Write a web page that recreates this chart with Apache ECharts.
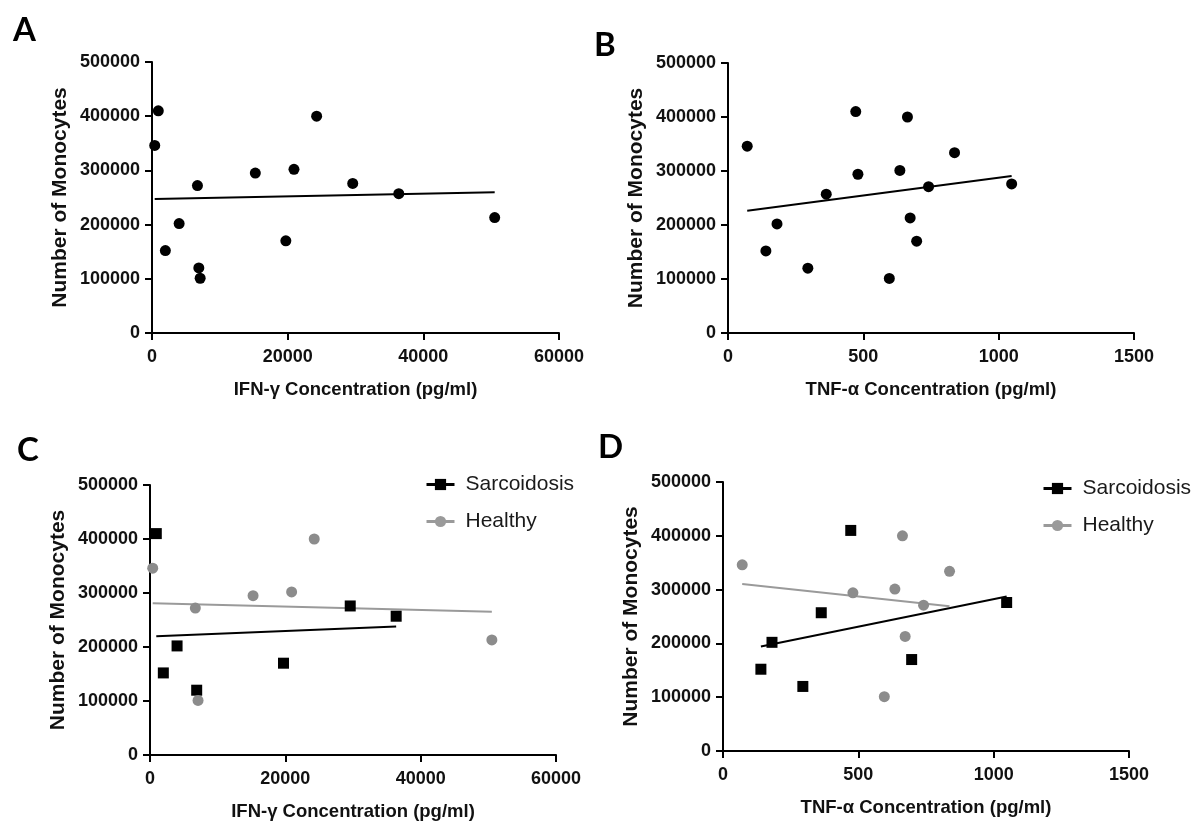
<!DOCTYPE html>
<html>
<head>
<meta charset="utf-8">
<script src="https://cdn.jsdelivr.net/npm/echarts@6/dist/echarts.min.js"></script>
<style>
html,body{margin:0;padding:0;background:#fff;}
#chart{width:1200px;height:823px;}
</style>
</head>
<body>
<div id="chart"></div>
<script>
// ---- data ----
const ifnSarc = [930, 1970, 4000, 6900, 19730, 29590, 36380];
const monoSarcIfn = [410000, 152000, 202000, 120000, 170000, 276000, 257000];
const ifnHealthy = [400, 6700, 7100, 15230, 20930, 24270, 50520];
const monoHealthyIfn = [346000, 272000, 101000, 295000, 302000, 400000, 213000];

const tnfSarc = [140, 181, 295, 363, 472, 697, 1048];
const monoSarcTnf = [152000, 202000, 120000, 257000, 410000, 170000, 276000];
const tnfHealthy = [71, 480, 596, 635, 663, 673, 741, 837];
const monoHealthyTnf = [346000, 294000, 101000, 301000, 400000, 213000, 271000, 334000];

const yTicks = { min: 0, max: 500000, interval: 100000 };
const ifnTicks = { min: 0, max: 60000, interval: 20000 };
const tnfTicks = { min: 0, max: 1500, interval: 500 };

const panelLetters = ['A', 'B', 'C', 'D'];
const groupNames = ['Sarcoidosis', 'Healthy'];
const yTitle = 'Number of Monocytes';
const ifnTitle = 'IFN-\u03b3 Concentration (pg/ml)';
const tnfTitle = 'TNF-\u03b1 Concentration (pg/ml)';

// ---- helpers ----
function pairs(xs, ys) { return xs.map((x, i) => [x, ys[i]]); }
function fitLine(xs, ys) {
  const n = xs.length;
  const mx = xs.reduce((a, b) => a + b, 0) / n;
  const my = ys.reduce((a, b) => a + b, 0) / n;
  let sxx = 0, sxy = 0;
  for (let i = 0; i < n; i++) { sxx += (xs[i] - mx) ** 2; sxy += (xs[i] - mx) * (ys[i] - my); }
  const b = sxy / sxx, a = my - b * mx;
  const x0 = Math.min(...xs), x1 = Math.max(...xs);
  return [[x0, a + b * x0], [x1, a + b * x1]];
}

const BLACK = '#000000';
const GRAY = '#8c8c8c';
const GRAYLINE = '#9a9a9a';
const FONT = "'Liberation Sans', Arial, sans-serif";

const grids = [
  { left: 152, top: 62, width: 407, height: 271 },
  { left: 728, top: 63, width: 406, height: 270 },
  { left: 150, top: 485, width: 406, height: 270 },
  { left: 723, top: 482, width: 406, height: 269 }
];

function axisCommon(margin) {
  return {
    axisLine: { show: true, onZero: false, lineStyle: { color: '#000', width: 2 } },
    axisTick: { show: true, inside: false, length: 7, lineStyle: { color: '#000', width: 2 } },
    splitLine: { show: false },
    axisLabel: { color: '#111', fontFamily: FONT, fontWeight: 'bold', fontSize: 18, margin: margin,
      formatter: function (v) { return String(v); } },
    nameTextStyle: { color: '#111', fontFamily: FONT, fontWeight: 'bold' }
  };
}

const xAxes = grids.map((g, i) => {
  const t = (i % 2 === 0) ? ifnTicks : tnfTicks;
  const c = axisCommon(15);
  return Object.assign(c, {
    type: 'value', gridIndex: i, min: t.min, max: t.max, interval: t.interval,
    name: (i % 2 === 0) ? ifnTitle : tnfTitle, nameLocation: 'middle', nameGap: 47,
    nameTextStyle: Object.assign(c.nameTextStyle, { fontSize: 18.5 })
  });
});
const yAxes = grids.map((g, i) => {
  const c = axisCommon(12);
  return Object.assign(c, {
    type: 'value', gridIndex: i, min: yTicks.min, max: yTicks.max, interval: yTicks.interval,
    name: yTitle, nameLocation: 'middle', nameGap: 81,
    nameTextStyle: Object.assign(c.nameTextStyle, { fontSize: 21 })
  });
});

function regLine(name, idx, data, color, symbol) {
  return {
    type: 'line', name: name, xAxisIndex: idx, yAxisIndex: idx, data: data,
    showSymbol: false, symbol: symbol || 'none', symbolSize: 11, silent: true,
    lineStyle: { color: color, width: 2 }, itemStyle: { color: color }, z: 2
  };
}
function dots(name, idx, data, color, symbol) {
  return {
    type: 'scatter', name: name, xAxisIndex: idx, yAxisIndex: idx, data: data,
    symbol: symbol, symbolSize: 11, itemStyle: { color: color, opacity: 1 }, z: 3
  };
}

const allIfnX = ifnSarc.concat(ifnHealthy), allIfnY = monoSarcIfn.concat(monoHealthyIfn);
const allTnfX = tnfSarc.concat(tnfHealthy), allTnfY = monoSarcTnf.concat(monoHealthyTnf);

const series = [
  regLine(groupNames[0], 2, fitLine(ifnSarc, monoSarcIfn), BLACK, 'rect'),
  regLine(groupNames[1], 2, fitLine(ifnHealthy, monoHealthyIfn), GRAYLINE, 'circle'),
  regLine(groupNames[0], 3, fitLine(tnfSarc, monoSarcTnf), BLACK, 'rect'),
  regLine(groupNames[1], 3, fitLine(tnfHealthy, monoHealthyTnf), GRAYLINE, 'circle'),
  regLine('fitA', 0, fitLine(allIfnX, allIfnY), BLACK),
  regLine('fitB', 1, fitLine(allTnfX, allTnfY), BLACK),
  dots('allA', 0, pairs(allIfnX, allIfnY), BLACK, 'circle'),
  dots('allB', 1, pairs(allTnfX, allTnfY), BLACK, 'circle'),
  dots(groupNames[0], 2, pairs(ifnSarc, monoSarcIfn), BLACK, 'rect'),
  dots(groupNames[1], 2, pairs(ifnHealthy, monoHealthyIfn), GRAY, 'circle'),
  dots(groupNames[0], 3, pairs(tnfSarc, monoSarcTnf), BLACK, 'rect'),
  dots(groupNames[1], 3, pairs(tnfHealthy, monoHealthyTnf), GRAY, 'circle')
];

function legendAt(left, top) {
  return {
    data: groupNames, orient: 'vertical', left: left, top: top,
    itemWidth: 28, itemHeight: 14, itemGap: 16, selectedMode: false,
    lineStyle: { width: 3 },
    textStyle: { color: '#1a1a1a', fontFamily: FONT, fontSize: 21, padding: [0, 0, 0, 6] }
  };
}

const letterPos = [[13, 14], [594, 29], [17, 434], [598, 431]];
const graphic = panelLetters.map((L, i) => ({
  type: 'text', left: letterPos[i][0], top: letterPos[i][1],
  style: { text: L, fill: '#000', font: 'bold 33px Lato, "Open Sans", sans-serif' }
}));

const chart = echarts.init(document.getElementById('chart'), null, { renderer: 'canvas' });
chart.setOption({
  animation: false,
  backgroundColor: '#fff',
  grid: grids,
  xAxis: xAxes,
  yAxis: yAxes,
  legend: [legendAt(420, 469), legendAt(1037, 473)],
  graphic: graphic,
  series: series
});
</script>
</body>
</html>
